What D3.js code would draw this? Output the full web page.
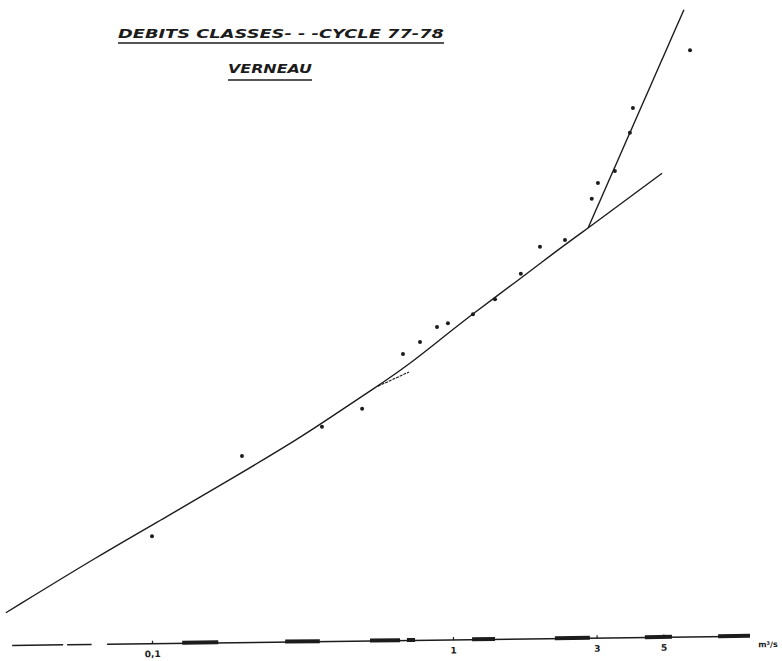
<!DOCTYPE html>
<html>
<head>
<meta charset="utf-8">
<script src="https://cdn.jsdelivr.net/npm/d3@7"></script>
<style>
  html, body { margin: 0; padding: 0; background: #fff; }
  svg { display: block; }
</style>
</head>
<body>
<svg id="chart" width="782" height="661"></svg>
<script>
// Débits classés — cycle 77-78, station Verneau.
// Flow (m³/s) on a logarithmic axis, reduced variate on the vertical.

// Observed classified flows: discharge (m³/s) and reduced variate
const obsFlow = [0.100, 0.199, 0.367, 0.499, 0.682, 0.777, 0.885, 0.962, 1.165,
                 1.379, 1.68, 1.945, 2.355, 2.89, 3.03, 3.45, 3.87, 3.96, 6.13];
const obsVariate = [1.45, 2.52, 2.91, 3.15, 3.88, 4.04, 4.24, 4.29, 4.41,
                    4.61, 4.95, 5.31, 5.40, 5.95, 6.16, 6.32, 6.83, 7.16, 7.93];

// Fitted distribution curve
const fitFlow = [0.0327, 0.0671, 0.112, 0.186, 0.310, 0.421, 0.542, 0.709,
                 0.905, 1.157, 1.632, 2.10, 2.81];
const fitVariate = [0.43, 1.20, 1.71, 2.23, 2.76, 3.12, 3.41, 3.73,
                    4.07, 4.41, 4.85, 5.19, 5.56];

// Extension of the fitted curve beyond the pivot
const extFlow = [2.81, 4.95];
const extVariate = [5.56, 6.29];

// Steep extrapolation from the pivot
const gradexFlow = [2.81, 5.85];
const gradexVariate = [5.56, 8.47];

// Short auxiliary segment
const auxFlow = [0.563, 0.714];
const auxVariate = [3.45, 3.64];

// Axis ticks and labels
const flowTicks = [0.1, 1, 3, 5];
const tickLabels = ["0,1", "1", "3", "5"];
const unitLabel = "m³/s";

// Heavier stretches along the flow axis, as [from, to] in m³/s
const axisBands = [[0.126, 0.166], [0.277, 0.361], [0.530, 0.667], [0.703, 0.748],
                   [1.157, 1.379], [2.18, 2.85], [4.34, 5.34], [7.6, 9.7]];

const titleLine1 = "DEBITS  CLASSES- - -CYCLE  77-78";
const titleLine2 = "VERNEAU";

const ink = "#1c1c1c";
const svg = d3.select("#chart");

const x = d3.scaleLog().domain([0.1, 10]).range([152, 754]);
const y = d3.scaleLinear().domain([0, 8]).range([645, 45]);

const toPts = (fs, vs) => fs.map((f, i) => [f, vs[i]]);

// Fitted curve
const smooth = d3.line().x(d => x(d[0])).y(d => y(d[1])).curve(d3.curveBasis);
svg.append("path")
  .datum(toPts(fitFlow, fitVariate))
  .attr("d", smooth)
  .attr("fill", "none").attr("stroke", ink).attr("stroke-width", 1.4);

const straight = d3.line().x(d => x(d[0])).y(d => y(d[1]));
[[extFlow, extVariate], [gradexFlow, gradexVariate]].forEach(([f, v]) => {
  svg.append("path")
    .datum(toPts(f, v))
    .attr("d", straight)
    .attr("fill", "none").attr("stroke", ink).attr("stroke-width", 1.4);
});

svg.append("path")
  .datum(toPts(auxFlow, auxVariate))
  .attr("d", straight)
  .attr("fill", "none").attr("stroke", ink).attr("stroke-width", 1.1)
  .attr("stroke-dasharray", "3,1");

// Observations
svg.append("g").selectAll("circle")
  .data(toPts(obsFlow, obsVariate))
  .join("circle")
  .attr("cx", d => x(d[0])).attr("cy", d => y(d[1]))
  .attr("r", 2).attr("fill", ink);

// Flow axis (slightly tilted, as drawn on the sheet)
const axisG = svg.append("g")
  .attr("transform", "rotate(-0.7, 453, 640) translate(0, 640)");

axisG.append("line")
  .attr("x1", x(0.0709)).attr("x2", x(9.7)).attr("y1", 0).attr("y2", 0)
  .attr("stroke", ink).attr("stroke-width", 1.5);
axisG.append("line")
  .attr("x1", x(0.0343)).attr("x2", x(0.063)).attr("y1", 0).attr("y2", 0)
  .attr("stroke", ink).attr("stroke-width", 1.5)
  .attr("stroke-dasharray", "51,4,26,10");

axisG.selectAll("rect.band")
  .data(axisBands)
  .join("rect")
  .attr("class", "band")
  .attr("x", d => x(d[0])).attr("width", d => x(d[1]) - x(d[0]))
  .attr("y", -2.5).attr("height", 4)
  .attr("fill", ink);

const axis = d3.axisBottom(x)
  .tickValues(flowTicks)
  .tickFormat((d, i) => tickLabels[i])
  .tickSizeInner(-3).tickSizeOuter(0).tickPadding(7);
const ag = axisG.append("g").call(axis);
ag.select(".domain").remove();
ag.selectAll(".tick line").attr("stroke", ink).attr("stroke-width", 1.2);
ag.selectAll(".tick text")
  .attr("fill", ink)
  .attr("font-family", "DejaVu Sans, sans-serif")
  .attr("font-weight", "bold")
  .attr("font-size", 9);

axisG.append("text")
  .attr("x", x(9.7) + 8).attr("y", 11)
  .attr("fill", ink)
  .attr("font-family", "DejaVu Sans, sans-serif")
  .attr("font-weight", "bold")
  .attr("font-size", 8)
  .text(unitLabel);

// Hand-lettered underlined title
const title = svg.append("g")
  .attr("fill", ink)
  .attr("font-family", "DejaVu Sans, sans-serif")
  .attr("font-style", "italic")
  .attr("font-weight", "bold")
  .attr("font-size", 13);

title.append("text")
  .attr("x", 118).attr("y", 38)
  .attr("textLength", 326).attr("lengthAdjust", "spacingAndGlyphs")
  .text(titleLine1);
title.append("line")
  .attr("x1", 118).attr("x2", 444).attr("y1", 43).attr("y2", 43)
  .attr("stroke", ink).attr("stroke-width", 1.4);

title.append("text")
  .attr("x", 228).attr("y", 73)
  .attr("textLength", 84).attr("lengthAdjust", "spacingAndGlyphs")
  .text(titleLine2);
title.append("line")
  .attr("x1", 228).attr("x2", 312).attr("y1", 80).attr("y2", 80)
  .attr("stroke", ink).attr("stroke-width", 1.6);
</script>
</body>
</html>
